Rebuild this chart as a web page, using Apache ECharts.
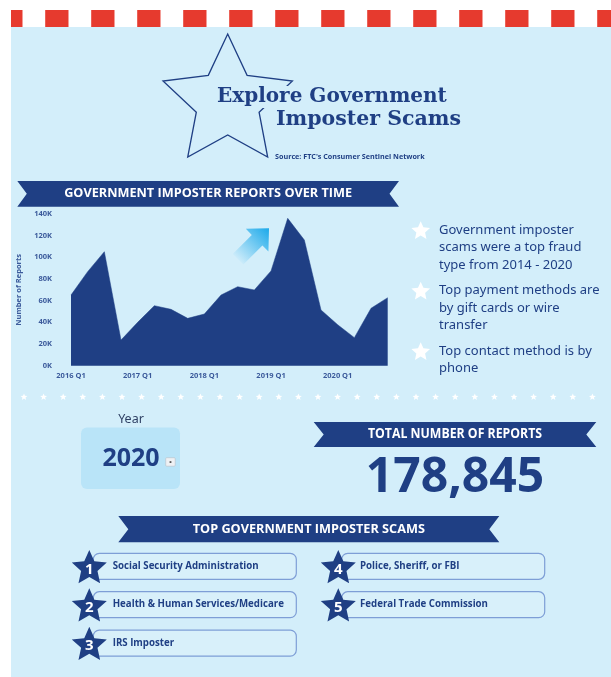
<!DOCTYPE html>
<html>
<head>
<meta charset="utf-8">
<script src="https://cdn.jsdelivr.net/npm/echarts/dist/echarts.min.js"></script>
<style>
html,body{margin:0;padding:0;background:#fff;}
#c{width:611px;height:677px;}
</style>
</head>
<body>
<div id="c"></div>
<script>
// ---- data ----
const quarters = ['2016 Q1','2016 Q2','2016 Q3','2016 Q4','2017 Q1','2017 Q2','2017 Q3','2017 Q4',
  '2018 Q1','2018 Q2','2018 Q3','2018 Q4','2019 Q1','2019 Q2','2019 Q3','2019 Q4',
  '2020 Q1','2020 Q2','2020 Q3','2020 Q4'];
const reports = [65200, 86800, 105200, 23700, 40000, 55400, 52000, 43700,
  47700, 65200, 72900, 69900, 87500, 136000, 116000, 51400,
  37800, 25900, 53000, 62800];
const yTickStep = 20000;
const yMax = 140000;
const titleLines = ['Explore Government', 'Imposter Scams'];
const sourceText = "Source: FTC's Consumer Sentinel Network";
const chartTitle = 'GOVERNMENT IMPOSTER REPORTS OVER TIME';
const bulletGroups = [
  ['Government imposter', 'scams were a top fraud', 'type from 2014 - 2020'],
  ['Top payment methods are', 'by gift cards or wire', 'transfer'],
  ['Top contact method is by', 'phone']
];
const yearLabel = 'Year';
const selectedYear = '2020';
const totalTitle = 'TOTAL NUMBER OF REPORTS';
const totalReports = 178845;
const scamsTitle = 'TOP GOVERNMENT IMPOSTER SCAMS';
const topScams = ['Social Security Administration', 'Health & Human Services/Medicare', 'IRS Imposter',
  'Police, Sheriff, or FBI', 'Federal Trade Commission'];

// ---- styles ----
const NAVY = '#1f3f84';
const PANEL = '#d3eefa';
const RED = '#e63a2e';

function starPts(cx, cy, R, r) {
  const pts = [];
  for (let i = 0; i < 10; i++) {
    const a = -Math.PI / 2 + i * Math.PI / 5;
    const rad = i % 2 === 0 ? R : r;
    pts.push([cx + rad * Math.cos(a), cy + rad * Math.sin(a)]);
  }
  return pts;
}
function ribbon(x0, x1, y0, y1, d) {
  const ym = (y0 + y1) / 2;
  return [[x0, y0], [x1, y0], [x1 - d, ym], [x1, y1], [x0, y1], [x0 + d, ym]];
}

const g = [];
// panel
g.push({type:'rect', z:0, shape:{x:11, y:27, width:600, height:650}, style:{fill:PANEL}, silent:true});
// red squares
for (let k = 0; ; k++) {
  const x = -0.8 + 46 * k;
  if (x > 611) break;
  const xs = Math.max(x, 11);
  const w = x + 23.3 - xs;
  if (w > 0) g.push({type:'rect', z:0, shape:{x:xs, y:10, width:w, height:17}, style:{fill:RED}, silent:true});
}
// title star outline
g.push({type:'polygon', z:1, shape:{points:starPts(227.7, 102, 68, 33)}, style:{fill:'none', stroke:NAVY, lineWidth:1.3}, silent:true});
// title text
g.push({type:'text', z:3, x:215, y:97, style:{text:titleLines[0], font:'bold 20px "DejaVu Serif"', fill:NAVY,
  textVerticalAlign:'middle', backgroundColor:PANEL, padding:[1,2]}, silent:true});
g.push({type:'text', z:3, x:274, y:120, style:{text:titleLines[1], font:'bold 20.5px "DejaVu Serif"', fill:NAVY,
  textVerticalAlign:'middle', backgroundColor:PANEL, padding:[1,2]}, silent:true});
g.push({type:'text', z:3, x:275, y:157, style:{text:sourceText, font:'bold 7.2px "Open Sans"', fill:NAVY,
  textVerticalAlign:'middle'}, silent:true});

// ribbons
function addRibbon(x0, x1, y0, y1, d, text, font, sx) {
  g.push({type:'polygon', z:1, shape:{points:ribbon(x0, x1, y0, y1, d)}, style:{fill:NAVY}, silent:true});
  g.push({type:'text', z:3, x:(x0 + x1) / 2, y:(y0 + y1) / 2, scaleX: sx || 1,
    style:{text:text, font:font, fill:'#fff', textAlign:'center', textVerticalAlign:'middle'}, silent:true});
}
addRibbon(17.3, 399, 181, 206.7, 9.5, chartTitle, 'bold 12.7px "Open Sans"');
addRibbon(313.7, 596.3, 422, 447, 10, totalTitle, 'bold 13.5px "Open Sans"', 0.91);
addRibbon(118.3, 499.3, 516, 542.3, 10, scamsTitle, 'bold 12.7px "Open Sans"');

// arrow
(function(){
  const T = [269, 228.3];
  const d = [Math.SQRT1_2, -Math.SQRT1_2];
  const p = [Math.SQRT1_2, Math.SQRT1_2];
  const h = 16.8, w = 16, s = 7.5, L = 27;
  const B = [T[0] - d[0] * h, T[1] - d[1] * h];
  const P = (base, a, b) => [base[0] + p[0] * a + d[0] * b, base[1] + p[1] * a + d[1] * b];
  const pts = [T, P(B, w, 0), P(B, s, 0), P(B, s, -L), P(B, -s, -L), P(B, -s, 0), P(B, -w, 0)];
  g.push({type:'polygon', z:3, shape:{points:pts}, style:{fill:{type:'linear', x:0, y:1, x2:1, y2:0,
    colorStops:[{offset:0, color:'#eaf7fd'}, {offset:1, color:'#1ba9ea'}]}}, silent:true});
})();

// bullets
(function(){
  let y = 230;
  bulletGroups.forEach(lines => {
    g.push({type:'polygon', z:3, shape:{points:starPts(420.7, y + 1, 9.8, 4.6)}, style:{fill:'#fff'}, silent:true});
    lines.forEach((ln, i) => {
      g.push({type:'text', z:3, x:439, y:y + i * 17.6, style:{text:ln, font:'13px "Noto Sans"', fill:NAVY,
        textVerticalAlign:'middle'}, silent:true});
    });
    y += 60.5;
  });
})();

// row of small stars
for (let i = 0; i < 30; i++) {
  g.push({type:'polygon', z:3, shape:{points:starPts(24 + i * 19.6, 397, 3.6, 1.6)}, style:{fill:'#fff'}, silent:true});
}

// year selector
g.push({type:'text', z:3, x:131, y:419, style:{text:yearLabel, font:'12.5px "Noto Sans"', fill:'#2e3f63',
  textAlign:'center', textVerticalAlign:'middle'}, silent:true});
g.push({type:'rect', z:1, shape:{x:81, y:427.5, width:99, height:61.5, r:6}, style:{fill:'#b9e4f8'}, silent:true});
g.push({type:'text', z:3, x:131, y:458.5, style:{text:selectedYear, font:'bold 25px "Open Sans"', fill:NAVY,
  textAlign:'center', textVerticalAlign:'middle'}, silent:true});
g.push({type:'rect', z:3, shape:{x:165.7, y:457.7, width:9.5, height:8.5, r:1}, style:{fill:'#eef1f4', stroke:'#b7bfc8', lineWidth:0.6}, silent:true});
g.push({type:'rect', z:3, shape:{x:169.6, y:461.3, width:1.8, height:1.5}, style:{fill:'#333'}, silent:true});

// total number
g.push({type:'text', z:3, x:455, y:478.5, style:{text:totalReports.toLocaleString('en-US'), font:'bold 48px "Open Sans"', fill:NAVY,
  textAlign:'center', textVerticalAlign:'middle'}, silent:true});

// top scams list
topScams.forEach((name, i) => {
  const col = i < 3 ? 0 : 1;
  const row = i < 3 ? i : i - 3;
  const bx = col === 0 ? 93.3 : 341.7;
  const by = 553.3 + row * 38.4;
  const sx = col === 0 ? 89.3 : 338.3;
  const tx = col === 0 ? 112.7 : 360;
  g.push({type:'rect', z:1, shape:{x:bx, y:by, width:203, height:26, r:6}, style:{fill:'rgba(255,255,255,0.12)', stroke:'#7e9ed6', lineWidth:1.2}, silent:true});
  g.push({type:'polygon', z:3, shape:{points:starPts(sx, by + 15, 18.4, 8.6)}, style:{fill:NAVY}, silent:true});
  g.push({type:'text', z:4, x:sx, y:by + 16, style:{text:String(i + 1), font:'bold 15px "Open Sans"', fill:'#fff',
    textAlign:'center', textVerticalAlign:'middle'}, silent:true});
  g.push({type:'text', z:3, x:tx, y:by + 13, style:{text:name, font:'bold 9.7px "Open Sans"', fill:NAVY,
    textVerticalAlign:'middle'}, silent:true});
});

const chart = echarts.init(document.getElementById('c'), null, {renderer:'canvas', width:611, height:677});
chart.setOption({
  backgroundColor:'#ffffff',
  animation:false,
  grid:{left:71, top:214, width:316.7, height:151.7, containLabel:false},
  xAxis:{type:'category', data:quarters, boundaryGap:false,
    axisLine:{show:false}, axisTick:{show:false}, splitLine:{show:false},
    axisLabel:{interval:3, margin:6, color:'#3b5a9b', fontFamily:'Open Sans', fontWeight:'bold', fontSize:7.5}},
  yAxis:{type:'value', min:0, max:yMax, interval:yTickStep,
    name:'Number of Reports', nameLocation:'middle', nameGap:43, nameRotate:90,
    nameTextStyle:{color:'#3b5a9b', fontFamily:'Open Sans', fontWeight:'bold', fontSize:7.5},
    axisLine:{show:false}, axisTick:{show:false}, splitLine:{show:false},
    axisLabel:{margin:19, color:'#3b5a9b', fontFamily:'Open Sans', fontWeight:'bold', fontSize:7.5,
      formatter:v => (v / 1000) + 'K'}},
  series:[{type:'line', data:reports, symbol:'none', smooth:false, z:2,
    lineStyle:{width:0.5, color:NAVY}, areaStyle:{color:NAVY, opacity:1}}],
  graphic:{elements:g}
});
</script>
</body>
</html>
